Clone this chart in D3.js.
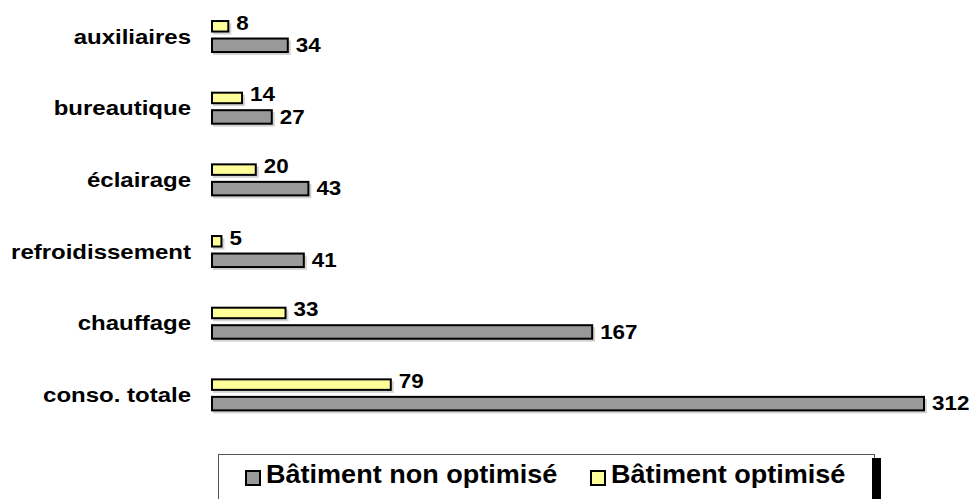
<!DOCTYPE html>
<html>
<head>
<meta charset="utf-8">
<script src="https://cdn.jsdelivr.net/npm/d3@7"></script>
<style>
    body { margin: 0; background: #fff; }
    svg { display: block; }
    .cat-label, .value-label, .legend-label {
        font-family: "Liberation Sans", Arial, sans-serif;
        font-weight: bold;
        fill: #000;
    }
</style>
</head>
<body>
<div id="chart-area"></div>
<script>
// Categories (top to bottom) and the two series
var categories = ["auxiliaires", "bureautique", "éclairage", "refroidissement", "chauffage", "conso. totale"];
var optimise = [8, 14, 20, 5, 33, 79];
var nonOptimise = [34, 27, 43, 41, 167, 312];
var seriesNames = ["Bâtiment non optimisé", "Bâtiment optimisé"];

var colors = { non: "#999999", opt: "#ffff99" };

var width = 975, height = 499;

var svg = d3.select("#chart-area").append("svg")
    .attr("width", width)
    .attr("height", height);

// scales
var x = d3.scaleLinear()
    .domain([0, 312])
    .range([211, 925]);

var y = d3.scaleBand()
    .domain(categories)
    .range([0.7, 430.7])
    .padding(0);

var data = categories.map(function(c, i) {
    return { cat: c, opt: optimise[i], non: nonOptimise[i] };
});

var groups = svg.selectAll("g.cat")
    .data(data)
    .enter()
    .append("g")
    .attr("class", "cat")
    .attr("transform", function(d) {
        return "translate(0," + (y(d.cat) + y.bandwidth() / 2) + ")";
    });

// bar definitions relative to the group centre
var bars = [
    { key: "opt", top: -15.5, h: 10.5 },
    { key: "non", top: 2, h: 13.5 }
];

bars.forEach(function(b) {
    // light shadow
    groups.append("rect")
        .attr("x", x(0) + 2)
        .attr("y", b.top + 2)
        .attr("width", function(d) { return x(d[b.key]) - x(0); })
        .attr("height", b.h + 1)
        .attr("fill", "#d4d4d4");

    groups.append("rect")
        .attr("x", x(0) + 1)
        .attr("y", b.top)
        .attr("width", function(d) { return x(d[b.key]) - x(0) - 2; })
        .attr("height", b.h)
        .attr("fill", colors[b.key])
        .attr("stroke", "#000")
        .attr("stroke-width", 2);

    groups.append("text")
        .attr("class", "value-label")
        .attr("transform", function(d) {
            return "translate(" + (x(d[b.key]) + 7) + "," + (b.top + b.h - (b.key === "opt" ? 2 : 0)) + ") scale(1.12,1)";
        })
        .style("font-size", "20px")
        .text(function(d) { return d[b.key]; });
});

// category labels
groups.append("text")
    .attr("class", "cat-label")
    .attr("text-anchor", "end")
    .attr("transform", "translate(191,7) scale(1.2,1)")
    .style("font-size", "20px")
    .text(function(d) { return d.cat; });

// legend
var legend = svg.append("g").attr("class", "legend");

legend.append("rect")
    .attr("x", 218.5)
    .attr("y", 454.5)
    .attr("width", 656)
    .attr("height", 60)
    .attr("fill", "#fff")
    .attr("stroke", "#555")
    .attr("stroke-width", 1);

legend.append("rect")
    .attr("x", 872)
    .attr("y", 458)
    .attr("width", 9)
    .attr("height", 50)
    .attr("fill", "#000");

var legendItems = [
    { name: seriesNames[0], color: colors.non, x: 246 },
    { name: seriesNames[1], color: colors.opt, x: 591 }
];

var items = legend.selectAll("g.item")
    .data(legendItems)
    .enter()
    .append("g")
    .attr("class", "item")
    .attr("transform", function(d) { return "translate(" + d.x + ",0)"; });

items.append("rect")
    .attr("x", 0)
    .attr("y", 471)
    .attr("width", 14)
    .attr("height", 14)
    .attr("fill", function(d) { return d.color; })
    .attr("stroke", "#000")
    .attr("stroke-width", 2);

items.append("text")
    .attr("class", "legend-label")
    .attr("transform", "translate(20,483) scale(1.04,1)")
    .style("font-size", "26px")
    .text(function(d) { return d.name; });
</script>
</body>
</html>
